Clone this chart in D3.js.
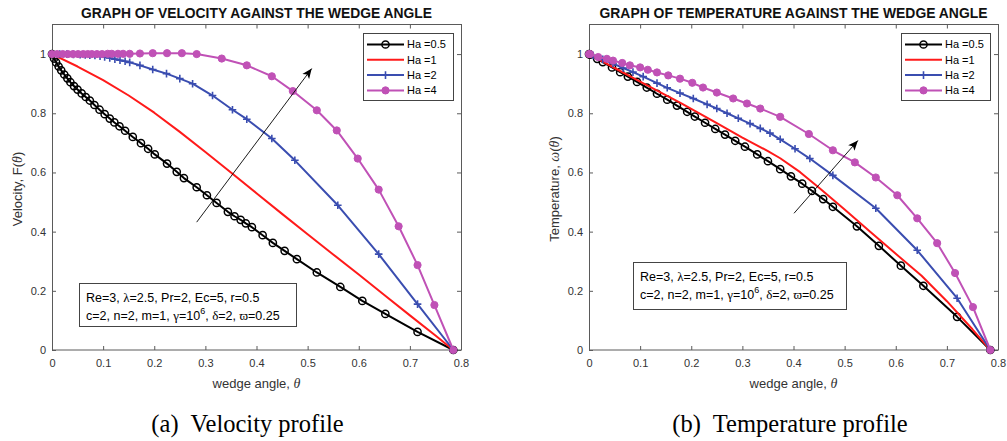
<!DOCTYPE html>
<html>
<head>
<meta charset="utf-8">
<script src="https://cdn.jsdelivr.net/npm/d3@7"></script>
<style>
  body { margin: 0; background: #fff; }
</style>
</head>
<body>
<svg id="chart" width="1007" height="441" font-family="'Liberation Sans', Arial, sans-serif"></svg>
<script>
// ---- values ----
const seriesNames = ["Ha =0.5", "Ha =1", "Ha =2", "Ha =4"];
const xTicks = [0, 0.1, 0.2, 0.3, 0.4, 0.5, 0.6, 0.7, 0.8];
const xTickLabels = ["0", "0.1", "0.2", "0.3", "0.4", "0.5", "0.6", "0.7", "0.8"];
const yTicks = [0, 0.2, 0.4, 0.6, 0.8, 1];
const yTickLabels = ["0", "0.2", "0.4", "0.6", "0.8", "1"];

// velocity F(theta), [theta, F]
const velHa05 = [[0,1],[0.004,0.985],[0.008,0.972],[0.013,0.958],[0.018,0.945],[0.024,0.931],[0.030,0.918],
  [0.036,0.905],[0.043,0.892],[0.050,0.880],[0.058,0.867],[0.066,0.855],[0.074,0.843],[0.083,0.828],
  [0.093,0.812],[0.103,0.797],[0.113,0.782],[0.122,0.769],[0.132,0.756],[0.143,0.741],[0.158,0.720],
  [0.174,0.699],[0.188,0.680],[0.201,0.661],[0.225,0.630],[0.244,0.602],[0.258,0.581],[0.283,0.550],
  [0.303,0.523],[0.322,0.497],[0.344,0.467],[0.357,0.452],[0.369,0.440],[0.379,0.428],[0.391,0.415],
  [0.412,0.388],[0.432,0.362],[0.455,0.335],[0.479,0.307],[0.518,0.262],[0.564,0.213],[0.607,0.166],
  [0.652,0.122],[0.715,0.061],[0.785,0]];
const velHa1 = [[0,1],[0.05,0.958],[0.1,0.912],[0.15,0.860],[0.2,0.802],[0.25,0.737],[0.3,0.669],
  [0.35,0.600],[0.4,0.530],[0.45,0.460],[0.5,0.391],[0.55,0.323],[0.6,0.255],[0.65,0.186],[0.7,0.117],
  [0.75,0.049],[0.785,0]];
const velHa2 = [[0,1],[0.015,1],[0.029,1],[0.042,0.999],[0.055,0.998],[0.065,0.997],[0.074,0.996],
  [0.084,0.995],[0.094,0.993],[0.103,0.990],[0.113,0.987],[0.123,0.983],[0.133,0.979],[0.143,0.976],
  [0.152,0.972],[0.172,0.962],[0.197,0.948],[0.224,0.934],[0.25,0.917],[0.275,0.900],[0.314,0.860],
  [0.353,0.812],[0.381,0.780],[0.43,0.715],[0.475,0.641],[0.559,0.489],[0.639,0.324],[0.715,0.155],
  [0.785,0]];
const velHa4 = [[0,1],[0.01,1],[0.021,1],[0.031,1],[0.041,1],[0.051,1],[0.061,1],[0.07,1],[0.078,1],
  [0.088,1],[0.098,1],[0.109,1.001],[0.117,1.001],[0.129,1.001],[0.139,1.001],[0.152,1.001],
  [0.172,1.002],[0.197,1.003],[0.225,1.003],[0.254,1.003],[0.283,1.0],[0.332,0.985],[0.381,0.962],
  [0.43,0.925],[0.471,0.875],[0.518,0.810],[0.557,0.742],[0.598,0.647],[0.639,0.542],[0.678,0.418],
  [0.715,0.287],[0.748,0.152],[0.785,0]];

// temperature omega(theta), [theta, omega]
const tempHa05 = [[0,1],[0.002,0.998],[0.016,0.984],[0.027,0.973],[0.045,0.955],[0.061,0.939],
  [0.076,0.924],[0.094,0.906],[0.113,0.887],[0.133,0.866],[0.153,0.846],[0.172,0.826],[0.192,0.805],
  [0.207,0.789],[0.227,0.768],[0.247,0.747],[0.266,0.728],[0.286,0.707],[0.305,0.687],[0.329,0.661],
  [0.35,0.638],[0.374,0.611],[0.395,0.587],[0.417,0.562],[0.436,0.538],[0.458,0.510],[0.477,0.484],
  [0.524,0.418],[0.567,0.352],[0.61,0.285],[0.654,0.217],[0.72,0.112],[0.785,0]];
const tempHa1 = [[0,1],[0.05,0.953],[0.1,0.907],[0.15,0.861],[0.178,0.836],[0.2,0.815],[0.25,0.767],
  [0.3,0.718],[0.35,0.672],[0.374,0.648],[0.413,0.601],[0.45,0.548],[0.5,0.475],[0.55,0.400],
  [0.6,0.325],[0.65,0.252],[0.7,0.165],[0.75,0.070],[0.785,0]];
const tempHa2 = [[0,1],[0.008,0.995],[0.027,0.982],[0.047,0.968],[0.067,0.953],[0.086,0.939],
  [0.106,0.924],[0.133,0.902],[0.153,0.886],[0.178,0.868],[0.204,0.850],[0.231,0.830],[0.25,0.816],
  [0.27,0.800],[0.292,0.783],[0.315,0.765],[0.335,0.749],[0.354,0.733],[0.374,0.712],[0.403,0.680],
  [0.432,0.647],[0.477,0.590],[0.561,0.479],[0.642,0.337],[0.72,0.175],[0.785,0]];
const tempHa4 = [[0,1],[0.002,1],[0.018,0.990],[0.035,0.984],[0.047,0.978],[0.065,0.970],[0.08,0.962],
  [0.1,0.955],[0.115,0.947],[0.133,0.938],[0.155,0.928],[0.178,0.917],[0.202,0.903],[0.223,0.887],
  [0.25,0.870],[0.282,0.850],[0.309,0.833],[0.335,0.816],[0.374,0.788],[0.43,0.730],[0.477,0.675],
  [0.52,0.634],[0.561,0.583],[0.603,0.523],[0.642,0.445],[0.681,0.361],[0.716,0.260],[0.751,0.145],
  [0.785,0]];

// arrow annotations, [theta, value] start -> end
const velArrow = [[0.283, 0.432], [0.508, 0.951]];
const tempArrow = [[0.401, 0.462], [0.526, 0.708]];

// ---- styling ----
const styles = [
  { color: "#000000", marker: "o" },
  { color: "#ff1a1a", marker: null },
  { color: "#3a4db0", marker: "+" },
  { color: "#c051b6", marker: "dot" }
];
const axisCol = "#5a5a5a";
const textCol = "#333333";
const serif = "'Liberation Serif', 'Times New Roman', serif";

const svg = d3.select("#chart");
svg.append("rect").attr("width", 1007).attr("height", 441).attr("fill", "#fff");

svg.append("defs").append("marker")
  .attr("id", "head").attr("viewBox", "0 0 10 10")
  .attr("refX", 10).attr("refY", 5)
  .attr("markerWidth", 10).attr("markerHeight", 10)
  .attr("markerUnits", "userSpaceOnUse")
  .attr("orient", "auto")
  .append("path").attr("d", "M0,0.8 L10,5 L0,9.2 L2.5,5 Z").attr("fill", "#000");

function drawMarker(sel, type, color) {
  if (type === "o") {
    sel.append("circle").attr("r", 3.6).attr("fill", "none")
      .attr("stroke", color).attr("stroke-width", 1.5);
  } else if (type === "+") {
    sel.append("path").attr("d", "M-3.8,0H3.8M0,-3.8V3.8")
      .attr("stroke", color).attr("stroke-width", 1.6);
  } else if (type === "dot") {
    sel.append("circle").attr("r", 3.6).attr("fill", color).attr("stroke", color);
  }
}

function styleAxis(g) {
  g.select(".domain").remove();
  g.selectAll(".tick line").attr("stroke", axisCol);
  g.selectAll(".tick text").attr("fill", textCol).attr("font-size", 11)
    .attr("font-family", "'Liberation Sans', Arial, sans-serif");
}

function drawPanel(p) {
  const top = 24.5, bottom = 350;
  const x = d3.scaleLinear().domain([0, 0.8]).range([p.x0, p.x1]);
  const y = d3.scaleLinear().domain([0, 1.1]).range([bottom, top]);
  const g = svg.append("g");

  // axes (MATLAB style: inward ticks on all four sides)
  g.append("g").attr("transform", `translate(0,${bottom})`)
    .call(d3.axisBottom(x).tickValues(xTicks).tickSize(-4).tickPadding(9)
      .tickFormat((d, i) => xTickLabels[i]))
    .call(styleAxis);
  g.append("g").attr("transform", `translate(0,${top})`)
    .call(d3.axisTop(x).tickValues(xTicks).tickSize(-4).tickFormat(""))
    .call(styleAxis);
  g.append("g").attr("transform", `translate(${p.x0},0)`)
    .call(d3.axisLeft(y).tickValues(yTicks).tickSize(-4).tickPadding(6)
      .tickFormat((d, i) => yTickLabels[i]))
    .call(styleAxis);
  g.append("g").attr("transform", `translate(${p.x1},0)`)
    .call(d3.axisRight(y).tickValues(yTicks).tickSize(-4).tickFormat(""))
    .call(styleAxis);
  g.append("rect")
    .attr("x", Math.round(p.x0) + 0.5).attr("y", top)
    .attr("width", Math.round(p.x1 - p.x0)).attr("height", bottom - top)
    .attr("fill", "none").attr("stroke", axisCol).attr("stroke-width", 1);

  // series
  const line = d3.line().x(d => x(d[0])).y(d => y(d[1]));
  p.series.forEach((data, i) => {
    const st = styles[i];
    g.append("path").datum(data).attr("d", line)
      .attr("fill", "none").attr("stroke", st.color).attr("stroke-width", 2)
      .attr("stroke-linejoin", "round");
    if (st.marker) {
      g.append("g").selectAll("g").data(data).join("g")
        .attr("transform", d => `translate(${x(d[0])},${y(d[1])})`)
        .each(function () { drawMarker(d3.select(this), st.marker, st.color); });
    }
  });

  // arrow
  g.append("line")
    .attr("x1", x(p.arrow[0][0])).attr("y1", y(p.arrow[0][1]))
    .attr("x2", x(p.arrow[1][0])).attr("y2", y(p.arrow[1][1]))
    .attr("stroke", "#000").attr("stroke-width", 0.9).attr("marker-end", "url(#head)");

  // title
  g.append("text").attr("x", (p.x0 + p.x1) / 2).attr("y", 18)
    .attr("text-anchor", "middle").attr("font-size", 14).attr("font-weight", "bold")
    .attr("textLength", p.titleLen).attr("lengthAdjust", "spacingAndGlyphs")
    .attr("fill", "#111").text(p.title);

  // x label
  const xl = g.append("text").attr("x", (p.x0 + p.x1) / 2).attr("y", 387.5)
    .attr("text-anchor", "middle").attr("font-size", 13).attr("fill", textCol);
  xl.append("tspan").text("wedge angle, ");
  xl.append("tspan").attr("font-family", serif).attr("font-style", "italic").attr("font-size", 14).text("θ");

  // y label
  const yl = g.append("text")
    .attr("transform", `translate(${p.ylabelX},189) rotate(-90)`)
    .attr("text-anchor", "middle").attr("font-size", 13).attr("fill", textCol);
  p.ylabel.forEach(part => {
    const t = yl.append("tspan").text(part.t);
    if (part.greek) t.attr("font-family", serif).attr("font-style", "italic").attr("font-size", 14);
  });

  // legend
  const L = p.legend;
  const lg = g.append("g").attr("transform", `translate(${L.x},${L.y})`);
  lg.append("rect").attr("x", 0.5).attr("y", 0.5).attr("width", L.w).attr("height", 67)
    .attr("fill", "#fff").attr("stroke", "#444").attr("stroke-width", 1);
  seriesNames.forEach((name, i) => {
    const ry = 11.5 + i * 15.3;
    const st = styles[i];
    lg.append("line").attr("x1", 4).attr("x2", 41).attr("y1", ry).attr("y2", ry)
      .attr("stroke", st.color).attr("stroke-width", 2);
    if (st.marker) drawMarker(lg.append("g").attr("transform", `translate(22.5,${ry})`), st.marker, st.color);
    lg.append("text").attr("x", 44).attr("y", ry).attr("dy", "0.36em")
      .attr("font-size", 11).attr("fill", "#000").text(name);
  });

  // parameter box
  const B = p.box;
  const bg = g.append("g").attr("transform", `translate(${B.x},${B.y})`);
  bg.append("rect").attr("x", 0.5).attr("y", 0.5).attr("width", B.w).attr("height", B.h)
    .attr("fill", "#fff").attr("stroke", "#444").attr("stroke-width", 1);
  const lines = [
    [{ t: "Re=3, " }, { t: "λ", g: 1 }, { t: "=2.5, Pr=2, Ec=5, r=0.5" }],
    [{ t: "c=2, n=2, m=1, " }, { t: "γ", g: 1 }, { t: "=10" }, { t: "6", sup: 1 }, { t: ", ", down: 1 },
     { t: "δ", g: 1 }, { t: "=2, " }, { t: "ϖ", g: 1 }, { t: "=0.25" }]
  ];
  lines.forEach((parts, li) => {
    const t = bg.append("text").attr("x", 7).attr("y", 18.5 + li * 18)
      .attr("font-size", 12.5).attr("fill", "#000");
    parts.forEach(pt => {
      const s = t.append("tspan").text(pt.t);
      if (pt.g) s.attr("font-family", serif).attr("font-size", 13);
      if (pt.sup) s.attr("font-size", 9).attr("dy", -5.5);
      if (pt.down) s.attr("dy", 5.5);
    });
  });
}

drawPanel({
  x0: 52, x1: 461,
  title: "GRAPH OF VELOCITY AGAINST THE WEDGE ANGLE", titleLen: 351,
  ylabel: [{ t: "Velocity, F(" }, { t: "θ", greek: 1 }, { t: ")" }],
  ylabelX: 22,
  series: [velHa05, velHa1, velHa2, velHa4],
  arrow: velArrow,
  legend: { x: 363, y: 33, w: 90 },
  box: { x: 79, y: 283, w: 217, h: 43 }
});

drawPanel({
  x0: 589, x1: 998,
  title: "GRAPH OF TEMPERATURE AGAINST THE WEDGE ANGLE", titleLen: 388,
  ylabel: [{ t: "Temperature, " }, { t: "ω", greek: 1 }, { t: "(" }, { t: "θ", greek: 1 }, { t: ")" }],
  ylabelX: 559,
  series: [tempHa05, tempHa1, tempHa2, tempHa4],
  arrow: tempArrow,
  legend: { x: 901, y: 33, w: 89 },
  box: { x: 633, y: 262, w: 213, h: 47 }
});

// sub-captions
[["(a)", "Velocity profile", 247.5], ["(b)", "Temperature profile", 790]].forEach(c => {
  const t = svg.append("text").attr("x", c[2]).attr("y", 431.5)
    .attr("text-anchor", "middle").attr("font-family", serif)
    .attr("font-size", 24.5).attr("fill", "#000");
  t.append("tspan").text(c[0]);
  t.append("tspan").attr("dx", 12).text(c[1]);
});
</script>
</body>
</html>
